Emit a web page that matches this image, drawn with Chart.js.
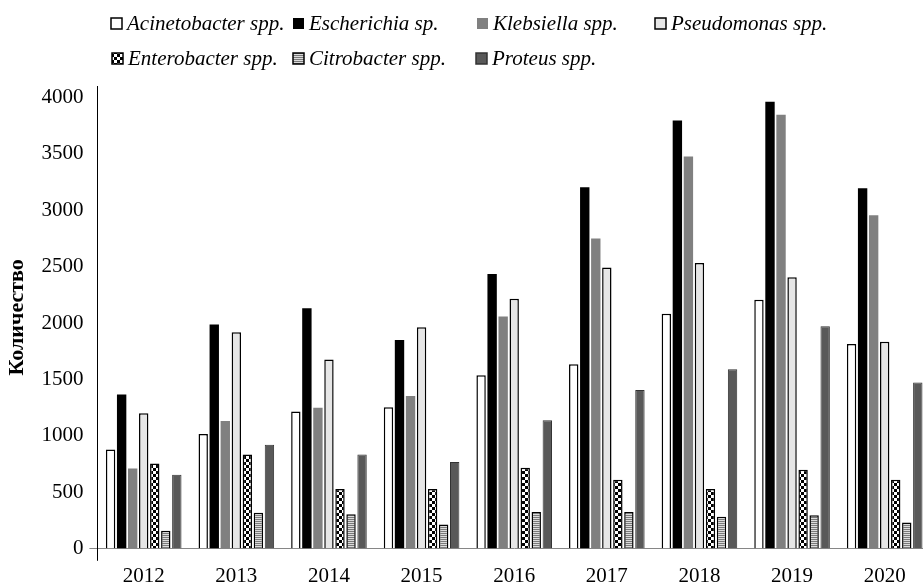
<!DOCTYPE html>
<html>
<head>
<meta charset="utf-8">
<script src="https://cdn.jsdelivr.net/npm/chart.js@4/dist/chart.umd.min.js"></script>
<style>
  body { margin: 0; overflow: hidden; background: #fff; }
  #wrap { position: relative; width: 931px; height: 592px; }
</style>
</head>
<body>
<div id="wrap"><canvas id="myChart"></canvas></div>
<script>
const years = ['2012', '2013', '2014', '2015', '2016', '2017', '2018', '2019', '2020'];

const acinetobacter = [880, 1017, 1217, 1253, 1537, 1634, 2083, 2207, 1815];
const escherichia = [1368, 1986, 2130, 1850, 2435, 3203, 3794, 3960, 3194];
const klebsiella = [712, 1132, 1250, 1354, 2059, 2748, 3475, 3845, 2955];
const pseudomonas = [1200, 1918, 1676, 1962, 2216, 2491, 2533, 2405, 1835];
const enterobacter = [756, 836, 529, 529, 718, 612, 529, 700, 612];
const citrobacter = [160, 319, 307, 216, 325, 325, 284, 298, 233];
const proteus = [656, 922, 836, 768, 1138, 1407, 1590, 1971, 1474];

const yTicks = [0, 500, 1000, 1500, 2000, 2500, 3000, 3500, 4000];

const serif = '"Liberation Serif", "Times New Roman", serif';

// legend spots (left of box, middle of row), like the original two-row layout
const legendSpots = [[111, 23], [293, 23], [477, 23], [655, 23], [112, 58], [293, 58], [476, 58]];

const canvas = document.getElementById('myChart');
const ctx = canvas.getContext('2d');

// checker pattern for Enterobacter
const chk = document.createElement('canvas');
chk.width = 6; chk.height = 6;
const c1 = chk.getContext('2d');
c1.fillStyle = '#000';
c1.fillRect(0, 0, 6, 6);
c1.fillStyle = '#fff';
c1.fillRect(0, 0, 3, 3);
c1.fillRect(3, 3, 3, 3);
const checker = ctx.createPattern(chk, 'repeat');

// horizontal stripes for Citrobacter
const str = document.createElement('canvas');
str.width = 2; str.height = 2;
const c2 = str.getContext('2d');
c2.fillStyle = '#dcdcdc';
c2.fillRect(0, 0, 2, 1);
c2.fillStyle = '#7a7a7a';
c2.fillRect(0, 1, 2, 1);
const stripes = ctx.createPattern(str, 'repeat');

const gridLegend = {
    id: 'gridLegend',
    afterDraw(chart) {
        const c = chart.ctx;
        c.save();
        c.font = 'italic 21px ' + serif;
        c.textBaseline = 'middle';
        c.textAlign = 'left';
        chart.data.datasets.forEach((ds, i) => {
            const p = legendSpots[i];
            c.fillStyle = ds.backgroundColor;
            c.fillRect(p[0], p[1] - 5, 11, 11);
            if (ds.borderWidth > 0) {
                c.strokeStyle = ds.borderColor;
                c.lineWidth = 1.5;
                c.strokeRect(p[0], p[1] - 5, 11, 11);
            }
            c.fillStyle = '#000';
            c.fillText(ds.label, p[0] + 16, p[1] + 1);
        });
        c.restore();
    }
};

const myChart = new Chart(canvas, {
    type: 'bar',
    data: {
        labels: years,
        datasets: [
            { label: 'Acinetobacter spp.', data: acinetobacter, backgroundColor: '#ffffff', borderColor: '#000', borderWidth: 1.5 },
            { label: 'Escherichia sp.', data: escherichia, backgroundColor: '#000000', borderColor: '#000', borderWidth: 0 },
            { label: 'Klebsiella spp.', data: klebsiella, backgroundColor: '#808080', borderColor: '#808080', borderWidth: 0 },
            { label: 'Pseudomonas spp.', data: pseudomonas, backgroundColor: '#e6e6e6', borderColor: '#000', borderWidth: 1.5 },
            { label: 'Enterobacter spp.', data: enterobacter, backgroundColor: checker, borderColor: '#000', borderWidth: 1.5 },
            { label: 'Citrobacter spp.', data: citrobacter, backgroundColor: stripes, borderColor: '#000', borderWidth: 1.5 },
            { label: 'Proteus spp.', data: proteus, backgroundColor: '#595959', borderColor: '#333', borderWidth: 1 }
        ]
    },
    options: {
        responsive: true,
        maintainAspectRatio: false,
        animation: false,
        categoryPercentage: 0.834,
        barPercentage: 0.85,
        layout: { padding: { top: 86, left: 4, right: 0, bottom: 0 } },
        plugins: {
            legend: { display: false },
            tooltip: { enabled: false }
        },
        scales: {
            x: {
                grid: {
                    display: true,
                    drawOnChartArea: false,
                    tickLength: 12,
                    color: c => c.index === 0 ? '#000' : 'rgba(0,0,0,0)'
                },
                border: { display: true, color: '#868686', width: 1 },
                ticks: { color: '#000', padding: 3, font: { family: serif, size: 21 } }
            },
            y: {
                min: 0,
                max: 4100,
                afterBuildTicks: axis => { axis.ticks = yTicks.map(v => ({ value: v })); },
                grid: {
                    display: true,
                    drawOnChartArea: false,
                    tickLength: 8,
                    color: c => c.tick && c.tick.value === 0 ? '#868686' : 'rgba(0,0,0,0)'
                },
                border: { display: true, color: '#000', width: 1 },
                ticks: {
                    color: '#000',
                    padding: 6,
                    font: { family: serif, size: 21 },
                    callback: v => String(v)
                },
                title: {
                    display: true,
                    text: 'Количество',
                    color: '#000',
                    padding: { top: 0, bottom: 5 },
                    font: { family: serif, size: 22, weight: 'bold' }
                }
            }
        }
    },
    plugins: [gridLegend]
});
</script>
</body>
</html>
